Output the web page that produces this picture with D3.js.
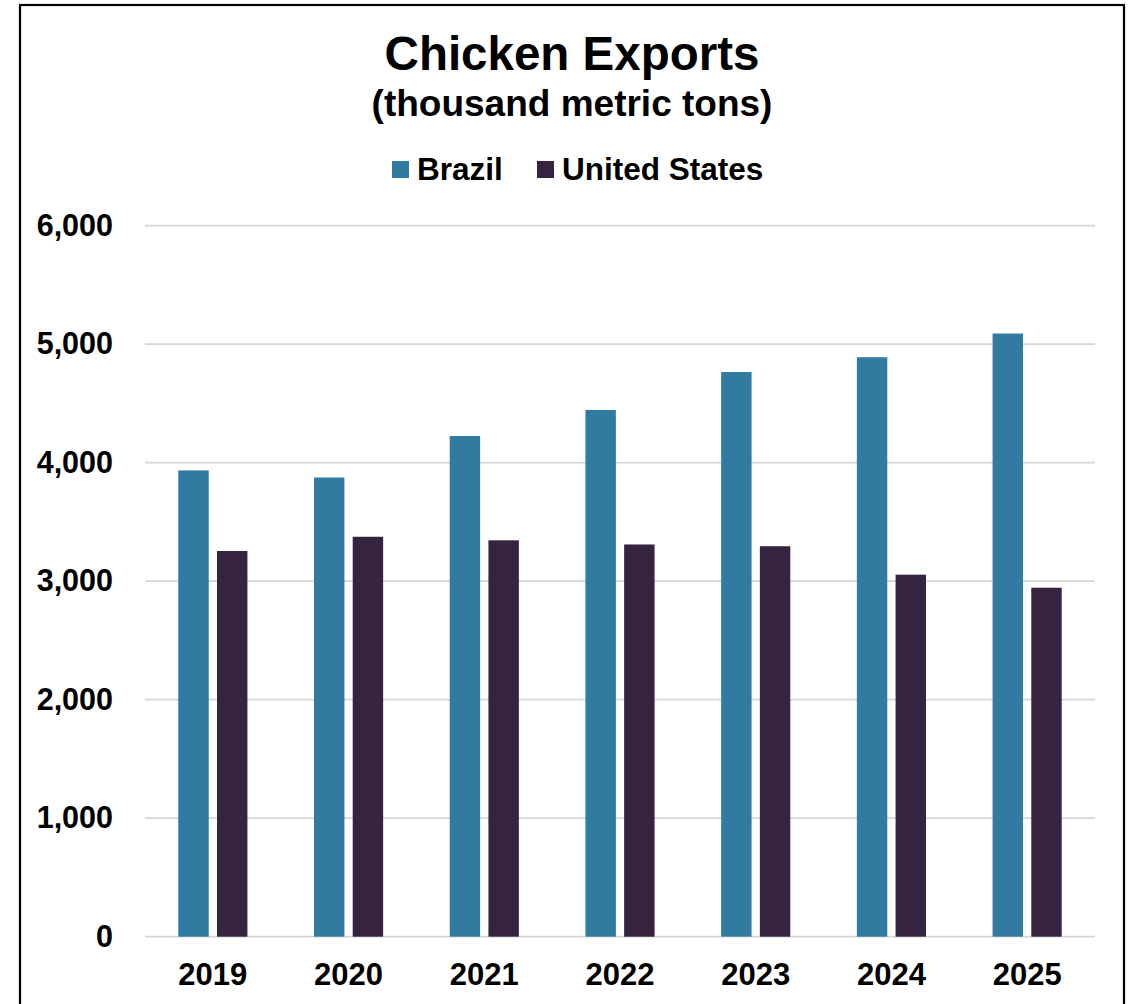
<!DOCTYPE html>
<html>
<head>
<meta charset="utf-8">
<script src="https://cdn.jsdelivr.net/npm/d3@7"></script>
<style>
  html, body { margin: 0; padding: 0; background: #fff; }
  svg text { font-family: "Liberation Sans", Arial, sans-serif; font-weight: bold; fill: #000; }
</style>
</head>
<body>
<div id="chart"></div>
<script>
// data
const years = ["2019", "2020", "2021", "2022", "2023", "2024", "2025"];
const seriesNames = ["Brazil", "United States"];
const brazil = [3935, 3875, 4225, 4445, 4765, 4890, 5090];
const unitedStates = [3255, 3375, 3345, 3310, 3295, 3055, 2945];
const yTicks = [0, 1000, 2000, 3000, 4000, 5000, 6000];
const colors = ["#317ba1", "#362340"];

const W = 1132, H = 1004;

const margin = {
  top:    226,
  right:  37,
  bottom: 67,
  left:   145
};

const svg = d3.select("#chart").append("svg")
  .attr("width", W)
  .attr("height", H);

// outer frame (bottom edge runs off the picture)
svg.append("rect")
  .attr("x", 20)
  .attr("y", 5)
  .attr("width", 1104)
  .attr("height", 1020)
  .attr("fill", "#fff")
  .attr("stroke", "#000")
  .attr("stroke-width", 2.2);

const plotW = W - margin.left - margin.right;
const y0 = 936.7, y1 = 225.7;

const x = d3.scaleBand().domain(years).range([margin.left, margin.left + plotW]).padding(0);
const x1 = d3.scaleBand().domain(seriesNames).range([0, x.bandwidth()])
  .paddingInner(0.214).paddingOuter(0.86);
const y = d3.scaleLinear().domain([0, 6000]).range([y0, y1]);

// gridlines
svg.append("g")
  .selectAll("line")
  .data(yTicks)
  .join("line")
  .attr("x1", margin.left)
  .attr("x2", margin.left + plotW)
  .attr("y1", d => y(d))
  .attr("y2", d => y(d))
  .attr("stroke", "#d6d6d6")
  .attr("stroke-width", 1.8);

// y axis labels
const yAxis = svg.append("g")
  .attr("transform", "translate(" + margin.left + ",0)")
  .call(d3.axisLeft(y).tickValues(yTicks).tickFormat(d3.format(",")).tickSize(0).tickPadding(32));
yAxis.select(".domain").remove();
yAxis.selectAll("text")
  .style("font-size", "30.5px")
  .style("font-family", "'Liberation Sans', Arial, sans-serif")
  .style("font-weight", "bold")
  .attr("fill", "#000");

// x axis labels
const xAxis = svg.append("g")
  .attr("transform", "translate(0," + y0 + ")")
  .call(d3.axisBottom(x).tickSize(0).tickPadding(26));
xAxis.select(".domain").remove();
xAxis.selectAll("text")
  .style("font-size", "31px")
  .style("font-family", "'Liberation Sans', Arial, sans-serif")
  .style("font-weight", "bold")
  .attr("fill", "#000");

// bars
const rows = years.map((yr, i) => ({ year: yr, values: [brazil[i], unitedStates[i]] }));

svg.append("g")
  .selectAll("g")
  .data(rows)
  .join("g")
  .attr("transform", d => "translate(" + x(d.year) + ",0)")
  .selectAll("rect")
  .data(d => d.values.map((v, j) => ({ name: seriesNames[j], value: v, idx: j })))
  .join("rect")
  .attr("x", d => x1(d.name))
  .attr("width", x1.bandwidth())
  .attr("y", d => y(d.value))
  .attr("height", d => y0 - y(d.value))
  .attr("fill", d => colors[d.idx]);

// title
svg.append("text")
  .attr("x", 572)
  .attr("y", 70)
  .attr("text-anchor", "middle")
  .style("font-size", "47.5px")
  .text("Chicken Exports");

svg.append("text")
  .attr("x", 572)
  .attr("y", 116)
  .attr("text-anchor", "middle")
  .style("font-size", "37px")
  .text("(thousand metric tons)");

// legend
const legendX = [392, 537];
const legend = svg.append("g");
seriesNames.forEach((name, i) => {
  legend.append("rect")
    .attr("x", legendX[i])
    .attr("y", 161)
    .attr("width", 17)
    .attr("height", 17)
    .attr("fill", colors[i]);
  legend.append("text")
    .attr("x", legendX[i] + 25)
    .attr("y", 179.5)
    .style("font-size", "31.5px")
    .text(name);
});
</script>
</body>
</html>
